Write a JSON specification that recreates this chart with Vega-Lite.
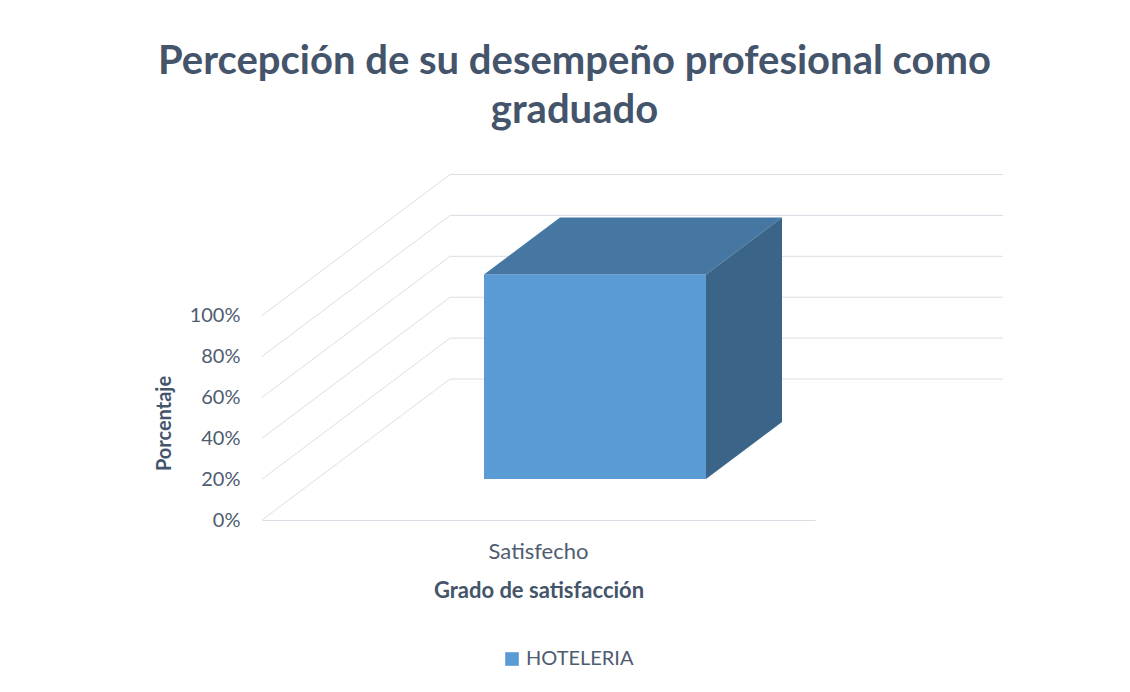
{
  "$schema": "https://vega.github.io/schema/vega-lite/v6.json",
  "width": 553,
  "height": 346,
  "autosize": "none",
  "padding": {"left": 262, "top": 174, "right": 315, "bottom": 172},
  "background": "white",
  "title": {
    "text": ["Percepción de su desempeño profesional como", "graduado"],
    "anchor": "middle",
    "frame": "group",
    "dx": 36,
    "offset": 11,
    "baseline": "alphabetic",
    "lineHeight": 49,
    "font": "Lato",
    "fontSize": 40,
    "fontWeight": "bold",
    "color": "#44546A"
  },
  "datasets": {
    "hoteleria": [{"Grado": "Satisfecho", "Porcentaje": 1, "Serie": "HOTELERIA"}],
    "marcas": [{"v": 0}, {"v": 0.2}, {"v": 0.4}, {"v": 0.6}, {"v": 0.8}, {"v": 1}]
  },
  "layer": [
    {
      "data": {"name": "marcas"},
      "layer": [
        {
          "mark": {"type": "rule", "color": "#DADFE5", "strokeWidth": 1, "y2Offset": -141},
          "encoding": {
            "x": {"datum": 0, "type": "quantitative", "scale": {"domain": [0, 1], "nice": false, "zero": false}, "axis": null},
            "x2": {"datum": 0.34},
            "y": {"field": "v", "type": "quantitative", "scale": {"domain": [0, 1.692], "nice": false, "zero": true}, "axis": {"values": [0, 0.2, 0.4, 0.6, 0.8, 1], "format": ".0%", "title": "Porcentaje"}},
            "y2": {"field": "v"}
          }
        },
        {
          "mark": {"type": "rule", "color": "#DADFE5", "strokeWidth": 1, "yOffset": -141},
          "encoding": {
            "x": {"datum": 0.34, "type": "quantitative", "scale": {"domain": [0, 1], "nice": false, "zero": false}, "axis": null},
            "x2": {"datum": 1.34},
            "y": {"field": "v", "type": "quantitative", "scale": {"domain": [0, 1.692], "nice": false, "zero": true}, "axis": {"values": [0, 0.2, 0.4, 0.6, 0.8, 1], "format": ".0%", "title": "Porcentaje"}}
          }
        }
      ]
    },
    {
      "data": {"name": "hoteleria"},
      "layer": [
        {
          "mark": {"type": "bar", "width": {"band": 0.4014}, "xOffset": 56.5, "yOffset": -41, "y2Offset": -41, "opacity": 1},
          "encoding": {
            "x": {"field": "Grado", "type": "nominal", "scale": {"paddingInner": 0, "paddingOuter": 0}, "axis": {"title": "Grado de satisfacción"}},
            "y": {"field": "Porcentaje", "type": "quantitative", "scale": {"domain": [0, 1.692], "nice": false, "zero": true}, "axis": {"values": [0, 0.2, 0.4, 0.6, 0.8, 1], "format": ".0%", "title": "Porcentaje"}},
            "color": {
              "field": "Serie",
              "type": "nominal",
              "scale": {"range": ["#5B9BD5"]},
              "legend": {
                "orient": "none",
                "legendX": 240,
                "legendY": 475,
                "title": null,
                "padding": 0,
                "symbolType": "square",
                "symbolSize": 185,
                "symbolOpacity": 1,
                "symbolStrokeWidth": 0,
                "labelOffset": 4,
                "labelFont": "Lato",
                "labelFontSize": 20,
                "labelColor": "#4E5C70"
              }
            }
          }
        },
        {
          "mark": {"type": "point", "shape": "M-0.545,-0.41L1.675,-0.41L2.435,-0.98L0.215,-0.98Z", "size": 40000, "filled": true, "fill": "#4677A3", "opacity": 1, "strokeWidth": 0},
          "encoding": {
            "x": {"field": "Grado", "type": "nominal"},
            "y": {"field": "Porcentaje", "type": "quantitative"}
          }
        },
        {
          "mark": {"type": "point", "shape": "M1.675,-0.41L2.435,-0.98L2.435,1.065L1.675,1.635Z", "size": 40000, "filled": true, "fill": "#3B6489", "opacity": 1, "strokeWidth": 0},
          "encoding": {
            "x": {"field": "Grado", "type": "nominal"},
            "y": {"field": "Porcentaje", "type": "quantitative"}
          }
        }
      ]
    }
  ],
  "resolve": {"scale": {"x": "independent"}},
  "config": {
    "font": "Lato",
    "view": {"stroke": null},
    "axisY": {
      "grid": false,
      "domain": false,
      "ticks": false,
      "labelPadding": 22,
      "labelFont": "Lato",
      "labelFontSize": 20,
      "labelColor": "#4E5C70",
      "titleFont": "Lato",
      "titleFontSize": 20,
      "titleFontWeight": "bold",
      "titleColor": "#44546A",
      "titleX": -92,
      "titleY": 249,
      "titleAlign": "center",
      "titleBaseline": "alphabetic",
      "titleAngle": -90
    },
    "axisX": {
      "grid": false,
      "domainColor": "#D9DEE4",
      "ticks": false,
      "labelAngle": 0,
      "labelPadding": 21,
      "labelFont": "Lato",
      "labelFontSize": 22,
      "labelColor": "#4E5C70",
      "titleFont": "Lato",
      "titleFontSize": 22,
      "titleFontWeight": "bold",
      "titleColor": "#44546A",
      "titlePadding": 18
    }
  }
}
